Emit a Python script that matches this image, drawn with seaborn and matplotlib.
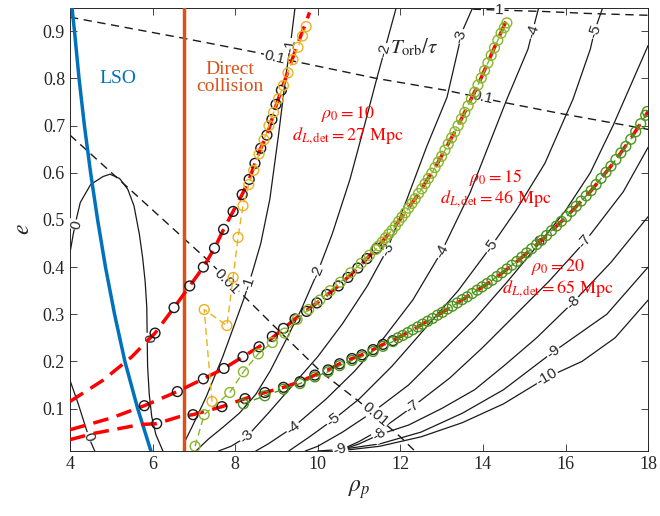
import numpy as np
import pandas as pd
import seaborn as sns
import matplotlib.pyplot as plt

# ---- data ----
lso_rho = [4.05, 4.11, 4.22, 4.35, 4.50, 4.67, 4.86, 5.08, 5.33, 5.64, 5.96]
lso_e = [0.95, 0.90, 0.80, 0.70, 0.60, 0.50, 0.40, 0.30, 0.20, 0.10, 0.01]
collision_rho = 6.77

# theory tracks (red dashed)
red10_rho = [4.0, 4.8, 5.5, 5.9, 6.06, 6.52, 6.9, 7.23, 7.5, 7.72, 7.95, 8.17, 8.34, 8.48, 8.62, 8.77, 8.89, 9.0, 9.12, 9.24, 9.36, 9.48, 9.6, 9.72, 9.8]
red10_e = [0.115, 0.16, 0.21, 0.246, 0.26, 0.314, 0.36, 0.40, 0.44, 0.48, 0.518, 0.554, 0.586, 0.62, 0.652, 0.68, 0.713, 0.745, 0.775, 0.805, 0.835, 0.865, 0.893, 0.92, 0.94]
red15_rho = [4.0, 5.0, 5.8, 6.6, 7.23, 7.73, 8.19, 8.58, 8.9, 9.45, 9.98, 10.5, 10.97, 11.43, 11.9, 12.4, 12.9, 13.4, 13.9, 14.3, 14.6]
red15_e = [0.055, 0.08, 0.106, 0.136, 0.163, 0.185, 0.21, 0.231, 0.25, 0.29, 0.324, 0.36, 0.398, 0.44, 0.49, 0.55, 0.62, 0.70, 0.79, 0.87, 0.93]
red20_rho = [4.0, 4.56, 5.7, 6.1, 6.66, 6.98, 7.68, 8.24, 8.72, 9.17, 9.57, 9.93, 10.25, 10.53, 10.83, 11.07, 11.34, 11.58, 11.82,
             12.4, 13.0, 13.6, 14.2, 14.8, 15.4, 16.0, 16.6, 17.2, 17.6, 18.0]
red20_e = [0.034, 0.047, 0.066, 0.068, 0.083, 0.087, 0.104, 0.121, 0.134, 0.145, 0.157, 0.171, 0.182, 0.195, 0.206, 0.214, 0.225, 0.236, 0.244,
           0.272, 0.303, 0.336, 0.37, 0.41, 0.455, 0.505, 0.56, 0.625, 0.675, 0.73]

# black open circles
blk10_rho = [6.06, 6.52, 6.9, 7.23, 7.5, 7.72, 7.95, 8.17, 8.34, 8.48, 8.62, 8.77, 8.89, 8.99, 9.12]
blk10_e = [0.26, 0.314, 0.36, 0.40, 0.44, 0.48, 0.518, 0.554, 0.586, 0.62, 0.652, 0.68, 0.713, 0.745, 0.775]
blk15_rho = [5.8, 6.6, 7.23, 7.73, 8.19, 8.58, 8.9, 9.17, 9.45, 9.73, 9.98, 10.22, 10.5, 10.73, 10.97, 11.19, 11.43]
blk15_e = [0.106, 0.136, 0.163, 0.185, 0.21, 0.231, 0.253, 0.27, 0.29, 0.306, 0.324, 0.342, 0.36, 0.378, 0.398, 0.418, 0.44]
blk20_rho = [6.1, 6.98, 7.68, 8.24, 8.72, 9.17, 9.57, 9.93, 10.25, 10.53, 10.83, 11.07, 11.34, 11.58, 11.82]
blk20_e = [0.068, 0.087, 0.104, 0.121, 0.134, 0.145, 0.157, 0.171, 0.182, 0.195, 0.206, 0.214, 0.225, 0.236, 0.244]

# coloured simulation tracks
yel_rho = [7.44, 7.25, 7.8, 7.95, 8.07, 8.19, 8.33, 8.45, 8.58, 8.7, 8.82, 8.93, 9.05, 9.17, 9.28, 9.4, 9.52, 9.63, 9.72]
yel_e = [0.115, 0.31, 0.276, 0.378, 0.463, 0.53, 0.575, 0.605, 0.64, 0.67, 0.70, 0.728, 0.757, 0.785, 0.812, 0.84, 0.866, 0.89, 0.91]
lg_rho = [7.03, 7.25, 7.87, 8.2, 8.56, 8.9, 9.2, 9.5, 9.78, 10.05, 10.3, 10.55, 10.8, 11.05, 11.25,
          11.40, 11.48, 11.56, 11.64, 11.72, 11.80, 11.88, 11.96, 12.04, 12.12, 12.20, 12.28, 12.36, 12.44, 12.52,
          12.60, 12.68, 12.76, 12.84, 12.92, 13.00, 13.08, 13.16, 13.24, 13.32, 13.40, 13.48, 13.56, 13.64, 13.72,
          13.80, 13.88, 13.96, 14.04, 14.12, 14.20, 14.28, 14.36, 14.44, 14.52, 14.58]
lg_e = [0.02, 0.087, 0.134, 0.178, 0.216, 0.24, 0.26, 0.289, 0.31, 0.33, 0.35, 0.368, 0.388, 0.408, 0.425,
        0.437, 0.445, 0.453, 0.462, 0.470, 0.478, 0.487, 0.497, 0.506, 0.515, 0.525, 0.535, 0.545, 0.556, 0.566,
        0.577, 0.588, 0.599, 0.611, 0.623, 0.635, 0.648, 0.661, 0.674, 0.687, 0.700, 0.714, 0.728, 0.742, 0.756,
        0.771, 0.786, 0.801, 0.817, 0.833, 0.849, 0.865, 0.881, 0.896, 0.908, 0.918]
dg_rho = [8.2, 8.72, 9.17, 9.57, 9.93, 10.25, 10.53, 10.83, 11.07, 11.34, 11.58, 11.82,
          11.94, 12.06, 12.18, 12.30, 12.42, 12.54, 12.66, 12.78, 12.90, 13.02, 13.14, 13.26, 13.38, 13.50,
          13.62, 13.74, 13.86, 13.98, 14.10, 14.22, 14.34, 14.46, 14.58, 14.70, 14.82, 14.94, 15.06, 15.18,
          15.30, 15.42, 15.54, 15.66, 15.78, 15.90, 16.02, 16.14, 16.26, 16.38, 16.50, 16.62, 16.74, 16.86,
          16.98, 17.10, 17.22, 17.34, 17.46, 17.58, 17.70, 17.82, 17.94, 17.98]
dg_e = [0.11, 0.127, 0.141, 0.153, 0.167, 0.178, 0.191, 0.202, 0.21, 0.221, 0.232, 0.242,
        0.25, 0.255, 0.261, 0.267, 0.273, 0.279, 0.285, 0.291, 0.298, 0.304, 0.311, 0.317, 0.324, 0.331,
        0.337, 0.344, 0.351, 0.358, 0.365, 0.372, 0.380, 0.388, 0.396, 0.404, 0.412, 0.421, 0.430, 0.439,
        0.448, 0.457, 0.467, 0.477, 0.487, 0.497, 0.507, 0.518, 0.529, 0.540, 0.551, 0.562, 0.575, 0.588,
        0.601, 0.614, 0.628, 0.642, 0.656, 0.671, 0.687, 0.704, 0.722, 0.73]

# solid contours (label -> polyline)
contours = {
    "0a": ([4.0, 4.08, 4.15, 4.25, 4.5, 4.8, 4.97, 5.2, 5.4, 5.55, 5.68, 5.76, 5.82, 5.86, 5.87, 5.88, 5.92, 5.98, 6.08, 6.25],
           [0.43, 0.47, 0.50, 0.537, 0.575, 0.592, 0.597, 0.588, 0.565, 0.53, 0.47, 0.42, 0.37, 0.316, 0.25, 0.19, 0.13, 0.083, 0.045, 0.01]),
    "0b": ([4.0, 4.2, 4.4, 4.5, 4.6], [0.16, 0.11, 0.055, 0.03, 0.01]),
    "-1": ([9.45, 9.35, 9.22, 9.05, 8.84, 8.62, 8.42, 8.22, 7.95, 7.7, 7.3, 6.95, 6.78, 6.76],
           [0.95, 0.88, 0.80, 0.68, 0.544, 0.45, 0.39, 0.335, 0.27, 0.21, 0.125, 0.06, 0.03, 0.01]),
    "-2": ([11.9, 11.65, 11.43, 11.1, 10.78, 10.35, 10.0, 9.6, 9.2, 8.85, 8.5, 8.1, 7.7, 7.35, 7.05],
           [0.95, 0.87, 0.80, 0.69, 0.586, 0.47, 0.39, 0.31, 0.24, 0.18, 0.13, 0.09, 0.06, 0.035, 0.01]),
    "-3": ([13.75, 13.5, 13.13, 12.64, 12.16, 11.68, 11.2, 10.6, 10.0, 9.4, 8.8, 8.28, 7.9, 7.6],
           [0.95, 0.9, 0.76, 0.656, 0.544, 0.437, 0.36, 0.28, 0.21, 0.15, 0.09, 0.04, 0.02, 0.01]),
    "-4": ([15.35, 15.2, 15.09, 14.58, 13.69, 13.0, 12.3, 11.6, 10.9, 10.2, 9.4, 8.8, 8.5],
           [0.95, 0.9, 0.862, 0.756, 0.558, 0.433, 0.33, 0.25, 0.18, 0.12, 0.06, 0.025, 0.01]),
    "-5": ([16.9, 16.7, 16.6, 16.18, 15.5, 14.8, 14.2, 13.4, 12.6, 11.8, 11.0, 10.37, 9.8, 9.3],
           [0.95, 0.9, 0.862, 0.756, 0.62, 0.52, 0.444, 0.35, 0.27, 0.19, 0.12, 0.076, 0.04, 0.01]),
    "-6": ([18.0, 17.6, 17.15, 16.6, 16.0, 15.38, 14.6, 13.8, 13.0, 12.2, 11.34, 10.6, 10.0, 9.7],
           [0.87, 0.79, 0.70, 0.60, 0.52, 0.452, 0.37, 0.29, 0.22, 0.15, 0.093, 0.05, 0.02, 0.01]),
    "-7": ([18.0, 17.4, 16.47, 15.6, 14.8, 14.0, 13.2, 12.3, 11.6, 11.0, 10.5],
           [0.654, 0.56, 0.454, 0.37, 0.30, 0.23, 0.165, 0.104, 0.06, 0.03, 0.01]),
    "-8": ([18.0, 17.1, 16.18, 15.3, 14.5, 13.8, 13.0, 12.2, 11.5, 11.0, 10.5],
           [0.507, 0.41, 0.325, 0.25, 0.19, 0.14, 0.10, 0.065, 0.045, 0.025, 0.01]),
    "-9": ([18.0, 17.0, 15.7, 14.5, 13.5, 12.5, 11.5, 10.54, 10.0],
           [0.40, 0.30, 0.22, 0.14, 0.09, 0.05, 0.025, 0.013, 0.01]),
    "-10": ([18.0, 17.2, 16.4, 15.55, 14.5, 13.5, 12.5, 11.5, 10.5],
            [0.33, 0.25, 0.20, 0.166, 0.11, 0.07, 0.04, 0.02, 0.01]),
}
# dashed contours of T_orb / tau
dashed = {
    "1": ([13.75, 14.4, 15.5, 16.5, 18.0], [0.947, 0.945, 0.942, 0.938, 0.934]),
    "0.1": ([4.0, 6.77, 8.53, 9.4, 11.43, 13.1, 14.34, 15.86, 17.5, 18.0],
            [0.93, 0.885, 0.855, 0.837, 0.80, 0.775, 0.752, 0.726, 0.70, 0.692]),
    "0.01": ([4.0, 5.7, 7.32, 9.0, 10.1, 11.0, 12.0, 12.35], [0.68, 0.545, 0.416, 0.27, 0.176, 0.115, 0.04, 0.01]),
}
# inline labels: text, rho, e, angle
clabels = [("0", 4.15, 0.49, 77), ("0", 5.87, 0.25, -88), ("0", 4.46, 0.04, -72),
           ("-1", 9.33, 0.87, 82), ("-1", 8.32, 0.365, 72),
           ("-2", 11.6, 0.86, 75), ("-2", 10.0, 0.39, 67),
           ("-3", 13.45, 0.89, 74), ("-3", 11.68, 0.437, 65), ("-3", 8.28, 0.04, 42),
           ("-4", 15.2, 0.9, 70), ("-4", 13.0, 0.433, 62), ("-4", 9.4, 0.06, 38),
           ("-5", 16.7, 0.9, 70), ("-5", 14.2, 0.444, 54), ("-5", 10.37, 0.076, 37),
           ("-6", 15.38, 0.452, 51), ("-6", 11.34, 0.093, 35),
           ("-7", 16.47, 0.454, 50), ("-7", 12.3, 0.104, 36),
           ("-8", 16.18, 0.325, 45), ("-8", 11.5, 0.045, 30),
           ("-9", 15.7, 0.22, 36), ("-9", 10.54, 0.014, 15),
           ("-10", 15.55, 0.166, 30),
           ("1", 14.4, 0.945, -2), ("0.1", 8.96, 0.845, -13), ("0.1", 13.98, 0.76, -12),
           ("0.01", 7.8, 0.37, -45), ("0.01", 11.4, 0.087, -40)]

# ---- style ----
sns.set_theme(style="ticks")
plt.rcParams["font.family"] = ["Liberation Serif", "DejaVu Serif"]
plt.rcParams["mathtext.fontset"] = "stix"

fig = plt.figure(figsize=(6.6, 5.16), dpi=100)
ax = fig.add_axes([0.106, 0.126, 0.876, 0.859])

def line(xs, ys, **kw):
    sns.lineplot(x=xs, y=ys, sort=False, estimator=None, ax=ax, legend=False, **kw)

for key, (xs, ys) in contours.items():
    line(xs, ys, color="k", linewidth=0.9, zorder=2)
for key, (xs, ys) in dashed.items():
    line(xs, ys, color="k", linewidth=1.0, linestyle=(0, (6, 4)), zorder=2)

for txt, x, y, ang in clabels:
    ax.text(x, y, txt, rotation=ang, ha="center", va="center",
            fontsize=11, family=["Liberation Sans", "DejaVu Sans"], zorder=3,
            bbox=dict(boxstyle="square,pad=0.05", fc="white", ec="none"))

line(lso_rho, lso_e, color="#0072BD", linewidth=2.5, zorder=4)
ax.axvline(collision_rho, color="#D95319", linewidth=2.5, zorder=4)

for xs, ys in [(red10_rho, red10_e), (red15_rho, red15_e), (red20_rho, red20_e)]:
    line(xs, ys, color="red", linewidth=2.5, linestyle=(0, (4.5, 2.5)), zorder=5)

mk = dict(marker="o", s=50, facecolor="none", linewidth=1.0, ax=ax, legend=False, zorder=6)
for xs, ys in [(blk10_rho, blk10_e), (blk15_rho, blk15_e), (blk20_rho, blk20_e)]:
    sns.scatterplot(x=xs, y=ys, edgecolor="k", **mk)

for xs, ys, col in [(yel_rho, yel_e, "#EDB120"), (lg_rho, lg_e, "#8AB52B"), (dg_rho, dg_e, "#4D941C")]:
    line(xs, ys, color=col, linewidth=1.0, linestyle=(0, (5, 3)), zorder=6)
    sns.scatterplot(x=xs, y=ys, edgecolor=col, **mk)

# annotations
ax.text(5.15, 0.80, "LSO", color="#0072BD", fontsize=14, ha="center", va="center")
ax.text(7.87, 0.80, "Direct\ncollision", color="#D95319", fontsize=14, ha="center", va="center",
        linespacing=1.0)
ax.text(12.33, 0.865, r"$T_{\mathrm{orb}}/\tau$", fontsize=15, ha="center", va="center")
for x, y, r0, dl in [(10.73, 0.70, 10, 27), (14.3, 0.567, 15, 46), (15.82, 0.376, 20, 65)]:
    ax.text(x, y + 0.024, r"$\rho_0 = %d$" % r0, color="red", fontsize=13, ha="center", va="center")
    ax.text(x, y - 0.022, r"$d_{L,\mathrm{det}} = %d\ \mathrm{Mpc}$" % dl, color="red", fontsize=13,
            ha="center", va="center")

ax.set_xlim(4, 18)
ax.set_ylim(0.01, 0.95)
ax.set_xticks(np.arange(4, 19, 2))
ax.set_yticks(np.round(np.arange(0.1, 0.91, 0.1), 1))
ax.tick_params(direction="in", top=True, right=True, length=5, width=0.6, labelsize=13, colors="#262626")
for sp in ax.spines.values():
    sp.set_linewidth(0.7)
    sp.set_color("#262626")
ax.set_xlabel(r"$\rho_p$", fontsize=17, labelpad=4)
ax.set_ylabel(r"$e$", fontsize=17, labelpad=6)

fig.savefig("out.png", dpi=100)
